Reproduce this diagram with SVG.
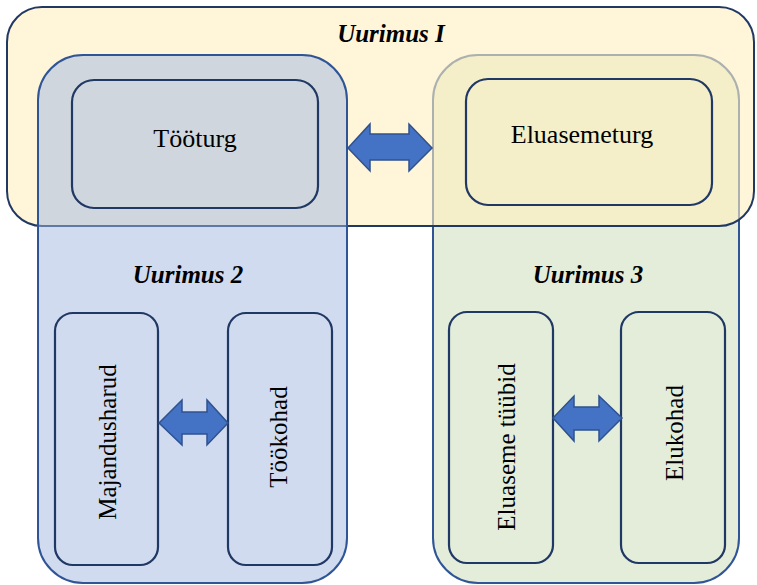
<svg xmlns="http://www.w3.org/2000/svg" width="757" height="585" viewBox="0 0 757 585">
<style>
.inner{fill:none;stroke:#203864;stroke-width:2.2}
.arrow{fill:#4472C4;stroke:#2F528F;stroke-width:1.5;stroke-linejoin:miter}
.title{font-family:"Liberation Serif",serif;font-weight:bold;font-style:italic;font-size:25px;fill:#000;text-anchor:middle}
.lbl{font-family:"Liberation Serif",serif;font-size:26px;fill:#000;text-anchor:middle}
.vlbl{font-family:"Liberation Serif",serif;font-size:25px;fill:#000;text-anchor:middle}
</style>
<rect width="757" height="585" fill="#FFFFFF"/>
<g id="uurimus3">
<rect x="433" y="55" width="306" height="528" rx="45" ry="45" fill="#E3EDDA" stroke="#2F5597" stroke-width="2"/>
</g>
<g id="uurimus1">
<rect x="7" y="7" width="747" height="219" rx="35" ry="35" fill="#FFEEBE" fill-opacity="0.6" stroke="#203864" stroke-width="2"/>
<text class="title" x="391" y="42">Uurimus I</text>
</g>
<g id="uurimus2">
<rect x="38" y="55" width="309" height="528" rx="45" ry="45" fill="#A1B7E1" fill-opacity="0.5" stroke="#2F5597" stroke-width="2"/>
<text class="title" x="188" y="283">Uurimus 2</text>
</g>
<text class="title" x="588" y="283">Uurimus 3</text>
<g id="tooturg">
<rect class="inner" x="72" y="80" width="246" height="128" rx="22" ry="22"/>
<text class="lbl" x="195" y="147">Tööturg</text>
</g>
<g id="eluasemeturg">
<rect class="inner" x="466" y="79" width="246" height="126" rx="22" ry="22"/>
<text class="lbl" x="582" y="143">Eluasemeturg</text>
</g>
<g id="majandusharud">
<rect class="inner" x="55" y="313" width="103" height="252" rx="18" ry="18"/>
<text class="vlbl" transform="translate(116,442) rotate(-90)">Majandusharud</text>
</g>
<g id="tookohad">
<rect class="inner" x="228" y="313" width="104" height="252" rx="18" ry="18"/>
<text class="vlbl" transform="translate(287,437) rotate(-90)">Töökohad</text>
</g>
<g id="eluaseme_tuubid">
<rect class="inner" x="449" y="312" width="104" height="251" rx="18" ry="18"/>
<text class="vlbl" transform="translate(515,447) rotate(-90)">Eluaseme tüübid</text>
</g>
<g id="elukohad">
<rect class="inner" x="621" y="312" width="104" height="251" rx="18" ry="18"/>
<text class="vlbl" transform="translate(683,433) rotate(-90)">Elukohad</text>
</g>
<g id="connectors">
<polygon class="arrow" points="348,148 370,124 370,134 409,134 409,124 432,148 409,171 409,160 370,160 370,171"/>
<polygon class="arrow" points="159,423 182,400 182,412 207,412 207,400 228,423 207,445 207,434 182,434 182,445"/>
<polygon class="arrow" points="553,418 574,396 574,407 599,407 599,396 622,418 599,441 599,430 574,430 574,441"/>
</g>
</svg>
